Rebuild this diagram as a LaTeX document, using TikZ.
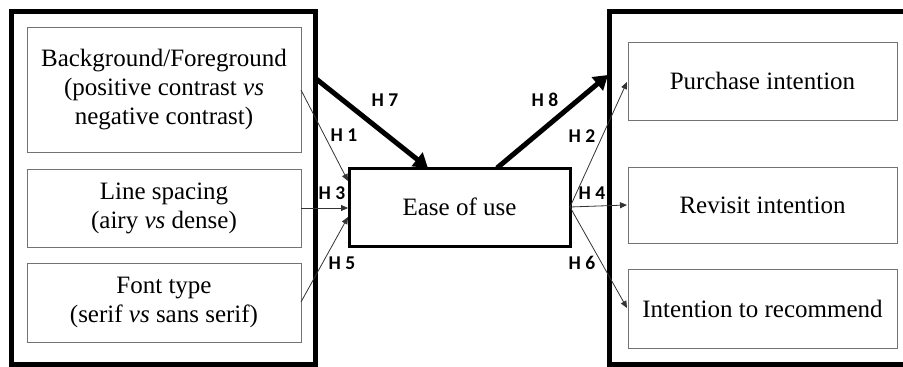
\documentclass[tikz,border=0pt]{standalone}
\usepackage{fontspec}
\setmainfont{Liberation Serif}
\newfontfamily\labfont{Carlito}
\usetikzlibrary{arrows.meta}
\tikzset{
  inbox/.style={draw=black!55, line width=1pt, align=center, font=\fontsize{25}{29}\selectfont, inner sep=0pt},
  outbox/.style={draw=black, line width=5pt},
  easebox/.style={draw=black, line width=3pt, align=center, font=\fontsize{25}{29}\selectfont, inner sep=0pt},
  thin/.style={draw=black!80, line width=0.8pt, -{Triangle[length=7pt,width=6pt]}},
  thick/.style={draw=black, line width=5pt, -{Triangle[length=14pt,width=17pt]}},
  hlab/.style={font=\labfont\bfseries\fontsize{19.5}{21}\selectfont, inner sep=0pt}
}
\begin{document}
\begin{tikzpicture}[x=1pt,y=-1pt]
\useasboundingbox (0,0) rectangle (903,367);
% outer frames
\draw[outbox] (11,11) rectangle (315,364);
\draw[outbox] (609,11) rectangle (920,364);
% left boxes
\node[inbox, minimum width=274pt, minimum height=125pt] (bg) at (164,89.5) {Background/Foreground\\(positive contrast \textit{vs}\\negative contrast)};
\node[inbox, minimum width=274pt, minimum height=78pt] (ls) at (164,208) {Line spacing\\(airy \textit{vs} dense)};
\node[inbox, minimum width=274pt, minimum height=79pt] (ft) at (164,302.5) {Font type\\(serif \textit{vs} sans serif)};
% center
\node[easebox, minimum width=221pt, minimum height=78pt] (ease) at (459.5,207) {Ease of use};
% right boxes
\node[inbox, minimum width=269pt, minimum height=78pt] (pi) at (762.5,81) {Purchase intention};
\node[inbox, minimum width=269pt, minimum height=76pt] (ri) at (762.5,205) {Revisit intention};
\node[inbox, minimum width=269pt, minimum height=79pt] (ir) at (762.5,308.5) {Intention to recommend};
% coordinates
\coordinate (h7s) at (315,78);
\coordinate (h7e) at (428,168);
\coordinate (h8s) at (497,168);
\coordinate (h8e) at (608,75);
\coordinate (h1s) at (301,90);
\coordinate (h1e) at (348,181);
\coordinate (h3s) at (301,208);
\coordinate (h3e) at (348,208);
\coordinate (h5s) at (301,302);
\coordinate (h5e) at (348,217);
\coordinate (er) at (570,207);
\coordinate (h2e) at (627,82);
\coordinate (h4e) at (627,205);
\coordinate (h6e) at (627,308);
% arrows
\draw[thick] (h7s) -- (h7e);
\draw[thick] (h8s) -- (h8e);
\draw[thin] (h1s) -- (h1e);
\draw[thin] (h3s) -- (h3e);
\draw[thin] (h5s) -- (h5e);
\draw[thin] (er) -- (h2e);
\draw[thin] (er) -- (h4e);
\draw[thin] (er) -- (h6e);
% labels
\node[hlab] (l7) at (385,100) {H 7};
\node[hlab] (l1) at (344,135) {H 1};
\node[hlab] (l3) at (332,193) {H 3};
\node[hlab] (l5) at (342,263) {H 5};
\node[hlab] (l8) at (545,100) {H 8};
\node[hlab] (l2) at (582,136) {H 2};
\node[hlab] (l4) at (592,193) {H 4};
\node[hlab] (l6) at (582,263) {H 6};
\end{tikzpicture}
\end{document}
